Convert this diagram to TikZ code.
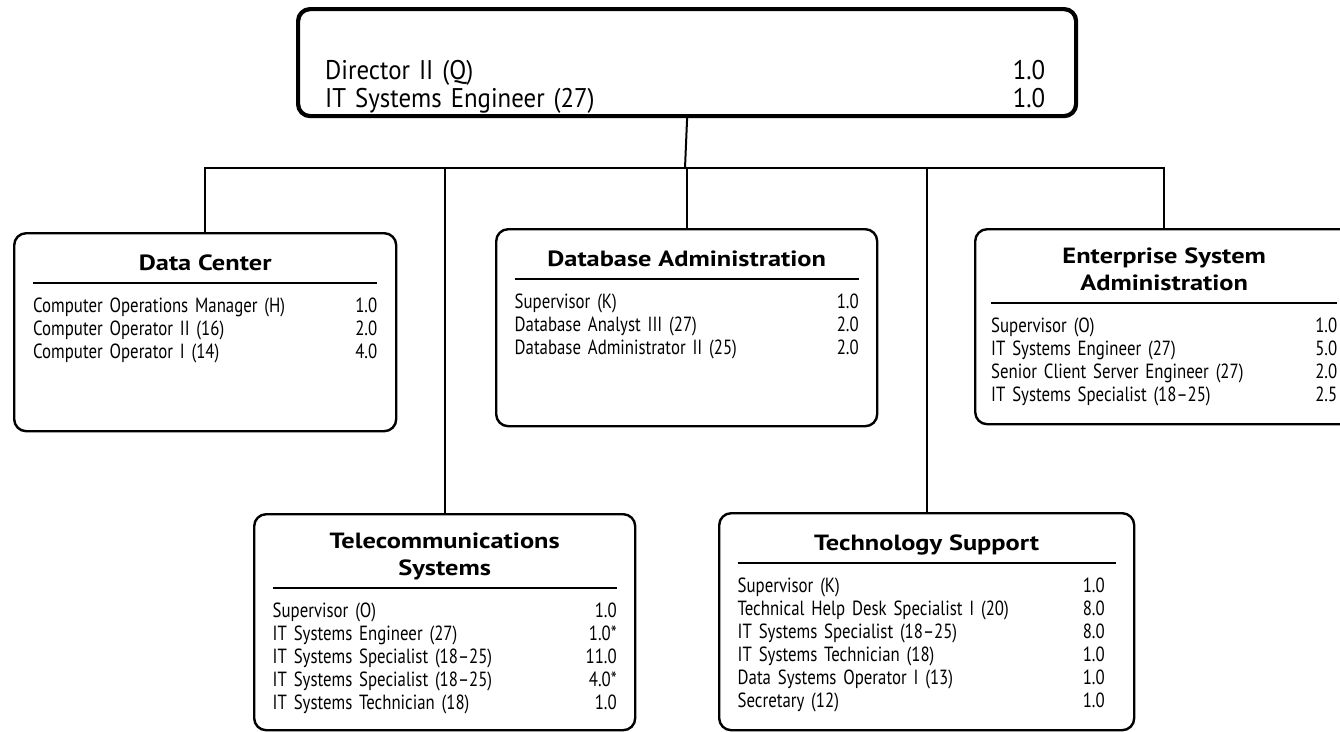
\documentclass[tikz,border=0pt]{standalone}
\usepackage{fontspec}
\setmainfont{PT Sans}[FakeStretch=0.82]
\newfontfamily\headfamily{PT Sans Bold}[FakeStretch=1.2]
\usetikzlibrary{positioning}

\newcommand{\rowfont}{\fontsize{20.5}{23}\selectfont}
\newcommand{\headfont}{\headfamily\fontsize{22}{27.5}\selectfont}
\newcommand{\topfont}{\fontsize{27}{28}\selectfont\addfontfeature{FakeStretch=0.92}}
\newcommand{\post}[2]{\noindent#1\hfill#2\strut\par}
\newcommand{\unithead}[1]{{\centering\headfont#1\strut\par}\vspace{3.1pt}\hrule height 1.3pt\vspace{13pt}}

\tikzset{
  unitbox/.style={draw, line width=2.4pt, rounded corners=12pt, anchor=north west, inner sep=0pt},
  unittext/.style={anchor=north, inner sep=0pt, text width=#1, font=\rowfont},
  link/.style={line width=2pt}
}

\begin{document}
\begin{tikzpicture}[x=1pt, y=-1pt]
\useasboundingbox (0,0) rectangle (1340,731);

% Director's office
\node[unitbox, line width=4.2pt, minimum width=778pt, minimum height=107pt] (top) at (296,7) {};
\node[unittext=720pt, font=\topfont, anchor=north west] (top-text) at (325,60)
  {\post{Director II (Q)}{1.0}\post{IT Systems Engineer (27)}{1.0}};

% Upper row of units
\node[unitbox, minimum width=382pt, minimum height=198pt] (dc) at (13,232) {};
\node[unitbox, minimum width=381pt, minimum height=197pt] (dba) at (495,228) {};
\node[unitbox, minimum width=378pt, minimum height=195pt] (esa) at (974,228) {};

% Lower row of units
\node[unitbox, minimum width=381pt, minimum height=216pt] (tel) at (253,513) {};
\node[unitbox, minimum width=415pt, minimum height=217pt] (tech) at (718,512) {};

% Unit contents
\node[unittext=344pt] (dc-text) at ([yshift=-19.5pt]dc.north) {\unithead{Data Center}
  \post{Computer Operations Manager (H)}{1.0}
  \post{Computer Operator II (16)}{2.0}
  \post{Computer Operator I (14)}{4.0}};
\node[unittext=344pt] (dba-text) at ([yshift=-19.5pt]dba.north) {\unithead{Database Administration}
  \post{Supervisor (K)}{1.0}
  \post{Database Analyst III (27)}{2.0}
  \post{Database Administrator II (25)}{2.0}};
\node[unittext=346pt] (esa-text) at ([yshift=-19.5pt]esa.north) {\unithead{Enterprise System\\Administration}
  \post{Supervisor (O)}{1.0}
  \post{IT Systems Engineer (27)}{5.0}
  \post{Senior Client Server Engineer (27)}{2.0}
  \post{IT Systems Specialist (18--25)}{2.5}};
\node[unittext=344pt] (tel-text) at ([yshift=-19.5pt]tel.north) {\unithead{Telecommunications\\Systems}
  \post{Supervisor (O)}{1.0}
  \post{IT Systems Engineer (27)}{1.0*}
  \post{IT Systems Specialist (18--25)}{11.0}
  \post{IT Systems Specialist (18--25)}{4.0*}
  \post{IT Systems Technician (18)}{1.0}};
\node[unittext=378pt] (tech-text) at ([yshift=-19.5pt]tech.north) {\unithead{Technology Support}
  \post{Supervisor (K)}{1.0\hspace*{11pt}}
  \post{Technical Help Desk Specialist I (20)}{8.0\hspace*{11pt}}
  \post{IT Systems Specialist (18--25)}{8.0\hspace*{11pt}}
  \post{IT Systems Technician (18)}{1.0\hspace*{11pt}}
  \post{Data Systems Operator I (13)}{1.0\hspace*{11pt}}
  \post{Secretary (12)}{1.0\hspace*{11pt}}};

% Connectors
\coordinate (bus) at (685,168);
\draw[link] (top.south) -- (bus);
\draw[link] (dc.north) |- (bus) -| (esa.north);
\draw[link] (tel.north) -- (tel.north |- bus);
\draw[link] (dba.north) -- (dba.north |- bus);
\draw[link] (tech.north) -- (tech.north |- bus);

\end{tikzpicture}
\end{document}
